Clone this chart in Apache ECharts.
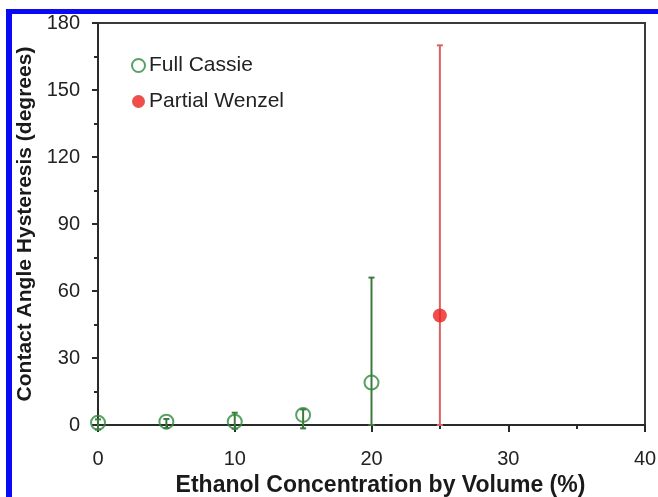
<!DOCTYPE html>
<html>
<head>
<meta charset="utf-8">
<script src="https://cdn.jsdelivr.net/npm/echarts@6/dist/echarts.min.js"></script>
<style>
html,body{margin:0;padding:0;background:#fff;}
#c{width:658px;height:497px;}
</style>
</head>
<body>
<div id="c"></div>
<script>
// Data
const cassieX = [0, 5, 10, 15, 20];
const cassieY = [1, 1.5, 1.5, 4.5, 19];
const cassieLow = [-2, -1.4, -1.7, -1.5, 0];
const cassieHigh = [2.5, 2.7, 5.5, 7, 66];

const wenzelX = [25];
const wenzelY = [49];
const wenzelLow = [0];
const wenzelHigh = [170];

const xTicks = [0, 10, 20, 30, 40];
const yTicks = [0, 30, 60, 90, 120, 150, 180];

const green = '#2f8a3f';
const greenBar = '#3c7a3c';
const red = '#ea2320';
const redBar = '#d96262';
const font = '"Liberation Sans", Arial, sans-serif';

function errData(xs, lo, hi) {
  return xs.map((x, i) => [x, lo[i], hi[i]]);
}
function errRender(color) {
  return function (params, api) {
    const x = api.value(0);
    const p1 = api.coord([x, api.value(1)]);
    const p2 = api.coord([x, api.value(2)]);
    const w = 3;
    const style = { stroke: color, lineWidth: 2, fill: null };
    return {
      type: 'group',
      children: [
        { type: 'line', shape: { x1: p1[0], y1: p1[1], x2: p2[0], y2: p2[1] }, style: style },
        { type: 'line', shape: { x1: p2[0] - w, y1: p2[1], x2: p2[0] + w, y2: p2[1] }, style: style },
        { type: 'line', shape: { x1: p1[0] - w, y1: p1[1], x2: p1[0] + w, y2: p1[1] }, style: style }
      ]
    };
  };
}

const chart = echarts.init(document.getElementById('c'), null, { renderer: 'canvas' });
chart.setOption({
  animation: false,
  backgroundColor: '#fff',
  textStyle: { fontFamily: font },
  grid: {
    left: 98, right: 13, top: 23, bottom: 72,
    containLabel: false, outerBoundsMode: 'none',
    show: true, borderColor: '#3a3a3a', borderWidth: 2, backgroundColor: 'transparent'
  },
  graphic: [
    { type: 'rect', shape: { x: 6, y: 9, width: 6, height: 488 }, style: { fill: '#0a0af5' }, z: 100 },
    { type: 'rect', shape: { x: 6, y: 9, width: 652, height: 5 }, style: { fill: '#0a0af5' }, z: 100 }
  ],
  legend: {
    orient: 'vertical',
    left: 126, top: 50,
    itemWidth: 13, itemHeight: 13,
    itemGap: 15,
    data: [
      { name: 'Full Cassie', icon: 'circle' },
      { name: 'Partial Wenzel', icon: 'circle' }
    ],
    textStyle: { fontSize: 21, color: '#222', fontFamily: font, padding: [0, 0, 0, -1] }
  },
  xAxis: {
    type: 'value', min: 0, max: 40, interval: 10,
    name: 'Ethanol Concentration by Volume (%)',
    nameLocation: 'middle', nameGap: 49,
    nameTextStyle: { fontSize: 23, fontWeight: 'bold', color: '#1a1a1a', fontFamily: font,
      padding: [0, 0, 0, 18] },
    axisLine: { show: true, onZero: false, lineStyle: { color: '#2a2a2a', width: 2 } },
    axisTick: { show: true, length: 7, lineStyle: { color: '#2a2a2a', width: 2 } },
    minorTick: { show: true, splitNumber: 2, length: 4, lineStyle: { color: '#2a2a2a', width: 2 } },
    axisLabel: { fontSize: 20, color: '#222', margin: 24, fontFamily: font,
      formatter: v => xTicks.includes(v) ? String(v) : '' },
    splitLine: { show: false }
  },
  yAxis: {
    type: 'value', min: 0, max: 180, interval: 30,
    name: 'Contact Angle Hysteresis (degrees)',
    nameLocation: 'middle', nameGap: 56,
    nameTextStyle: { fontSize: 21, fontWeight: 'bold', color: '#1a1a1a', fontFamily: font },
    axisLine: { show: true, lineStyle: { color: '#2a2a2a', width: 2 } },
    axisTick: { show: true, length: 6, lineStyle: { color: '#2a2a2a', width: 2 } },
    minorTick: { show: true, splitNumber: 2, length: 4, lineStyle: { color: '#2a2a2a', width: 2 } },
    axisLabel: { fontSize: 20, color: '#222', margin: 18, fontFamily: font,
      formatter: v => yTicks.includes(v) ? String(v) : '' },
    splitLine: { show: false }
  },
  series: [
    {
      name: 'cassieErr', type: 'custom', renderItem: errRender(greenBar),
      data: errData(cassieX, cassieLow, cassieHigh), z: 2, silent: true
    },
    {
      name: 'wenzelErr', type: 'custom', renderItem: errRender(redBar),
      data: errData(wenzelX, wenzelLow, wenzelHigh), z: 2, silent: true
    },
    {
      name: 'Full Cassie', type: 'scatter', symbol: 'circle', symbolSize: 14,
      data: cassieX.map((x, i) => [x, cassieY[i]]),
      itemStyle: { color: 'rgba(255,255,255,0)', borderColor: green, borderWidth: 2 },
      z: 5
    },
    {
      name: 'Partial Wenzel', type: 'scatter', symbol: 'circle', symbolSize: 14,
      data: wenzelX.map((x, i) => [x, wenzelY[i]]),
      itemStyle: { color: red },
      z: 5
    }
  ]
});
</script>
</body>
</html>
